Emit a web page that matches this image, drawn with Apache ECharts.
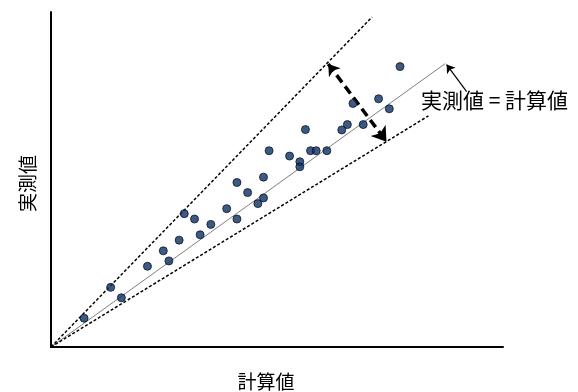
<!DOCTYPE html>
<html>
<head>
<meta charset="utf-8">
<script src="https://cdn.jsdelivr.net/npm/echarts@6/dist/echarts.min.js"></script>
<style>
html,body{margin:0;padding:0;background:#fff;}
#chart{width:578px;height:392px;}
</style>
</head>
<body>
<div id="chart"></div>
<script>
// Axis titles and annotation
const xAxisName = '計算値';
const yAxisName = '実測値';
const annotationText = '実測値 = 計算値';

// Axis ranges (no tick labels shown in the reference)
const xRange = [0, 97];
const yRange = [0, 100];

// Measured (実測値) vs calculated (計算値) values
const calcValues = [7.1, 12.8, 15.1, 20.7, 24.1, 25.3, 27.5, 28.6, 30.8, 32.0, 34.3, 37.7, 39.9, 39.9, 42.2, 44.4, 45.6, 45.6, 46.8, 51.2, 53.4, 53.4, 54.6, 55.7, 56.9, 59.2, 62.4, 63.6, 64.8, 67.0, 70.3, 72.6, 74.9];
const measValues = [8.6, 17.8, 14.7, 24.1, 28.7, 25.7, 31.9, 39.8, 38.2, 33.5, 36.6, 41.3, 49.1, 38.2, 46.1, 42.8, 44.5, 50.7, 58.6, 57.0, 55.3, 53.8, 64.9, 58.6, 58.6, 58.6, 64.8, 66.4, 72.7, 66.4, 74.1, 71.1, 83.7];

// Reference lines (start and end points)
const equalLine = [[0, 0], [84.6, 84.6]];
const upperLine = [[0, 0], [68.9, 98.5]];
const lowerLine = [[0, 0], [81.0, 69.0]];

// Double-headed arrow between bounds, and pointer to the equality line
const spreadArrow = [[59.5, 84.5], [72.0, 61.3]];
const pointerArrow = [[89.2, 76.2], [84.9, 84.3]];

const points = calcValues.map((x, i) => [x, measValues[i]]);

const chart = echarts.init(document.getElementById('chart'), null, {renderer: 'canvas'});
const font = '"Noto Sans CJK JP", "Noto Sans", sans-serif';

chart.setOption({
  animation: false,
  backgroundColor: '#ffffff',
  grid: {left: 51, top: 12, right: 75, bottom: 45, containLabel: false, outerBoundsMode: 'none'},
  xAxis: {
    type: 'value', min: xRange[0], max: xRange[1],
    name: xAxisName, nameLocation: 'middle', nameGap: 25,
    nameTextStyle: {fontFamily: font, fontSize: 19, color: '#000', padding: [0, 22, 0, 0]},
    axisLine: {show: true, onZero: false, lineStyle: {color: '#000', width: 2}},
    axisTick: {show: false}, axisLabel: {show: false}, splitLine: {show: false}
  },
  yAxis: {
    type: 'value', min: yRange[0], max: yRange[1],
    name: yAxisName, nameLocation: 'middle', nameGap: 14, nameRotate: 90,
    nameTextStyle: {fontFamily: font, fontSize: 19, color: '#000', padding: [0, 8, 0, 0]},
    axisLine: {show: true, onZero: false, lineStyle: {color: '#000', width: 2}},
    axisTick: {show: false}, axisLabel: {show: false}, splitLine: {show: false}
  },
  series: [
    {
      type: 'line', data: equalLine, symbol: 'none', silent: true,
      lineStyle: {color: '#7f7f7f', width: 1}, z: 2
    },
    {
      type: 'line', data: upperLine, symbol: 'none', silent: true,
      lineStyle: {color: '#000', width: 1.5, type: [3, 2]}, z: 2
    },
    {
      type: 'line', data: lowerLine, symbol: 'none', silent: true,
      lineStyle: {color: '#000', width: 1.5, type: [3, 2]}, z: 2
    },
    {
      type: 'lines', coordinateSystem: 'cartesian2d', silent: true,
      symbol: ['arrow', 'arrow'], symbolSize: [11, 14],
      lineStyle: {color: '#000', width: 3.5, type: [9, 5], opacity: 1},
      data: [{coords: spreadArrow}], z: 4
    },
    {
      type: 'lines', coordinateSystem: 'cartesian2d', silent: true,
      symbol: ['none', 'arrow'], symbolSize: 8,
      lineStyle: {color: '#000', width: 1.2, opacity: 1},
      data: [{coords: pointerArrow}], z: 4
    },
    {
      type: 'scatter', data: points, symbol: 'circle', symbolSize: 8,
      itemStyle: {color: '#0f3060', borderColor: '#081830', borderWidth: 1}, z: 5
    }
  ],
  graphic: [{
    type: 'text', left: 421, top: 90, silent: true,
    style: {text: annotationText, fontFamily: font, fontSize: 21, fill: '#000'}
  }]
});
</script>
</body>
</html>
